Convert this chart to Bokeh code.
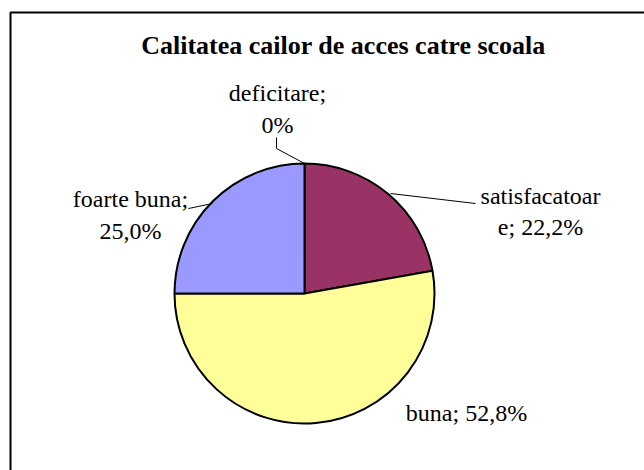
import numpy as np
from bokeh.plotting import figure
from bokeh.models import Range1d, ColumnDataSource
from bokeh.core.properties import value
from bokeh.embed import file_html
from bokeh.resources import INLINE

# ---- data ----
chart_title = "Calitatea cailor de acces catre scoala"
categories = ["deficitare", "satisfacatoare", "buna", "foarte buna"]
percents = [0.0, 22.2, 52.8, 25.0]
colors = ["#FFFFFF", "#993366", "#FFFF99", "#9999FF"]

def pct_text(v):
    return "0%" if v == 0 else (f"{v:.1f}%").replace(".", ",")

full_labels = [f"{c}; {pct_text(v)}" for c, v in zip(categories, percents)]
# where the original wraps each label (character index), None = one line
wrap_at = [len("deficitare;"), len("satisfacatoar"), None, len("foarte buna;")]

# ---- layout (page pixels) ----
W, H = 644, 470
def Y(py):
    return H - py

FONT = value("Liberation Serif")

cx, cy, R = 304, 293, 130
# baseline positions of the label lines (page pixels): (x_center, [baselines])
label_pos = [(277, [92, 124]), (540, [195, 226]), (466, [412]), (130, [198, 230])]
leaders = [
    [(276, 137), (276, 148), (304, 163)],
    [(390, 193), (475, 203)],
    None,
    [(188, 208), (212, 203)],
]

p = figure(width=W, height=H, output_backend="svg", toolbar_location=None,
           x_range=Range1d(0, W), y_range=Range1d(0, H),
           min_border=0, min_border_left=0, min_border_right=0,
           min_border_top=0, min_border_bottom=0)
p.axis.visible = False
p.grid.visible = False
p.outline_line_color = None
p.background_fill_color = "white"
p.border_fill_color = "white"

# chart border (extends beyond the visible window on right/bottom)
p.quad(left=10, right=720, top=Y(12), bottom=Y(530), fill_color=None,
       line_color="black", line_width=2)

# pie
frac = np.array(percents) / sum(percents)
cum = np.concatenate([[0], np.cumsum(frac)])
start = np.pi / 2 - 2 * np.pi * cum[:-1]
end = np.pi / 2 - 2 * np.pi * cum[1:]
keep = [i for i, v in enumerate(percents) if v > 0]
src = ColumnDataSource(dict(
    start=[start[i] for i in keep], end=[end[i] for i in keep],
    color=[colors[i] for i in keep],
    x=[cx] * len(keep), y=[Y(cy)] * len(keep)))
p.wedge(x="x", y="y", radius=R, start_angle="start", end_angle="end",
        direction="clock", fill_color="color", line_color="black",
        line_width=2, source=src)

# leader lines
for pts in leaders:
    if pts is None:
        continue
    p.line([q[0] for q in pts], [Y(q[1]) for q in pts], line_color="black",
           line_width=1)

# labels
tx, ty, tt = [], [], []
for lab, w, (x, bases) in zip(full_labels, wrap_at, label_pos):
    lines = [lab] if w is None else [lab[:w].strip(), lab[w:].strip()]
    for line, b in zip(lines, bases):
        tx.append(x)
        ty.append(Y(b))
        tt.append(line)
p.text(x=tx, y=ty, text=tt, text_font=FONT,
       text_font_size="24px", text_align="center", text_baseline="alphabetic",
       text_color="black")

# title
p.text(x=[343], y=[Y(45)], text=[chart_title], text_font=FONT,
       text_font_size="26px", text_font_style="bold", text_align="center",
       text_baseline="alphabetic", text_color="black")

open("out.html", "w").write(file_html(p, INLINE))
